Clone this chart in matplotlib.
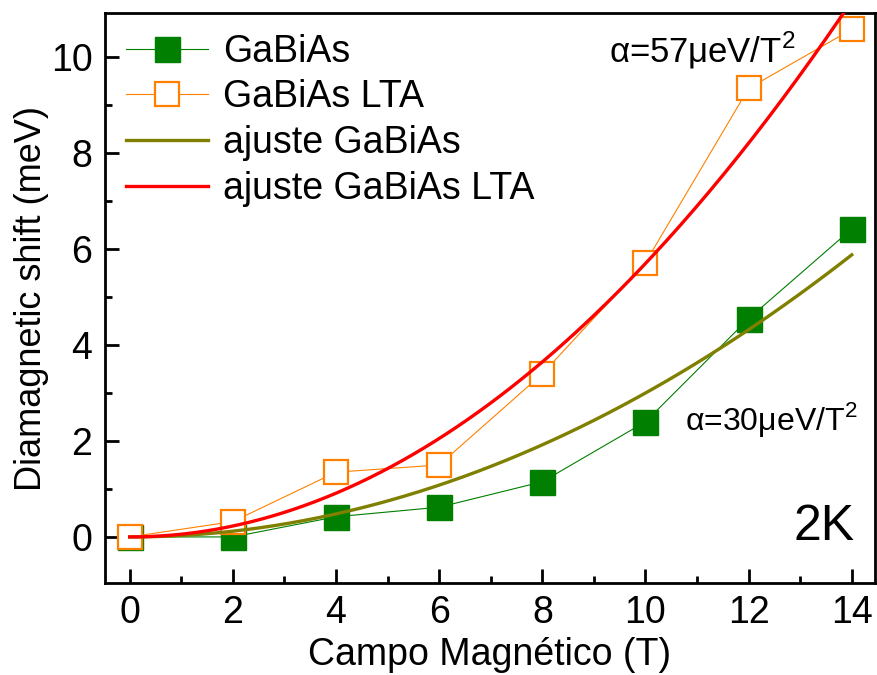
import numpy as np
import matplotlib
matplotlib.use("Agg")
import matplotlib.pyplot as plt
from matplotlib.ticker import MultipleLocator

plt.rcParams["font.family"] = ["Liberation Sans", "DejaVu Sans"]
plt.rcParams["mathtext.fontset"] = "custom"
plt.rcParams["mathtext.rm"] = "Liberation Sans"

# campo magnético (T) y desplazamiento diamagnético (meV)
campo = [0, 2, 4, 6, 8, 10, 12, 14]
shift_gabias = [0.0, 0.0, 0.42, 0.62, 1.15, 2.40, 4.55, 6.42]
shift_lta = [0.0, 0.32, 1.35, 1.50, 3.40, 5.72, 9.35, 10.58]

# coeficientes diamagnéticos del ajuste (meV/T^2)
alpha_gabias = 0.030
alpha_lta = 0.057

GREEN = "#007F00"
ORANGE = "#FF8000"
OLIVE = "#808000"
RED = "#FF0000"

fig = plt.figure(figsize=(8.77, 6.75), dpi=100)
ax = fig.add_axes([0.1197, 0.1363, 0.878, 0.8444])

b_fit = np.linspace(0, 14, 200)

ax.plot(campo, shift_gabias, color=GREEN, lw=0.8, marker="s", ms=18,
        mfc=GREEN, mec=GREEN, label="GaBiAs", zorder=3)
ax.plot(campo, shift_lta, color=ORANGE, lw=0.8, marker="s", ms=17.5,
        mfc="white", mec=ORANGE, mew=1.6, label="GaBiAs LTA", zorder=3)
ax.plot(b_fit, alpha_gabias * b_fit ** 2, color=OLIVE, lw=2.4,
        label="ajuste GaBiAs", zorder=4)
ax.plot(b_fit, alpha_lta * b_fit ** 2, color=RED, lw=2.4,
        label="ajuste GaBiAs LTA", zorder=4)

ax.set_xlim(-0.48, 14.45)
ax.set_ylim(-0.96, 10.92)
ax.xaxis.set_major_locator(MultipleLocator(2))
ax.xaxis.set_minor_locator(MultipleLocator(1))
ax.yaxis.set_major_locator(MultipleLocator(2))
ax.yaxis.set_minor_locator(MultipleLocator(1))
ax.tick_params(which="major", direction="in", length=10, width=2,
               labelsize=27, pad=9)
ax.tick_params(which="minor", direction="in", length=5, width=2)
for spine in ax.spines.values():
    spine.set_linewidth(2)

ax.set_xlabel("Campo Magnético (T)", fontsize=27, labelpad=4)
ax.set_ylabel("Diamagnetic shift (meV)", fontsize=26, labelpad=1)

ax.text(0.775, 0.935, "α=57μeV/T$^{2}$", transform=ax.transAxes,
        fontsize=25, ha="center", va="center")
ax.text(0.865, 0.286, "α=30μeV/T$^{2}$", transform=ax.transAxes,
        fontsize=23, ha="center", va="center")
ax.text(0.974, 0.098, "2K", transform=ax.transAxes, fontsize=36,
        ha="right", va="center")

ax.legend(loc="upper left", bbox_to_anchor=(0.0, 1.0), frameon=False,
          fontsize=27, handlelength=2.2, handletextpad=0.4,
          labelspacing=0.26, borderaxespad=0.15, markerscale=1.0)

fig.savefig("out.png", dpi=100)
